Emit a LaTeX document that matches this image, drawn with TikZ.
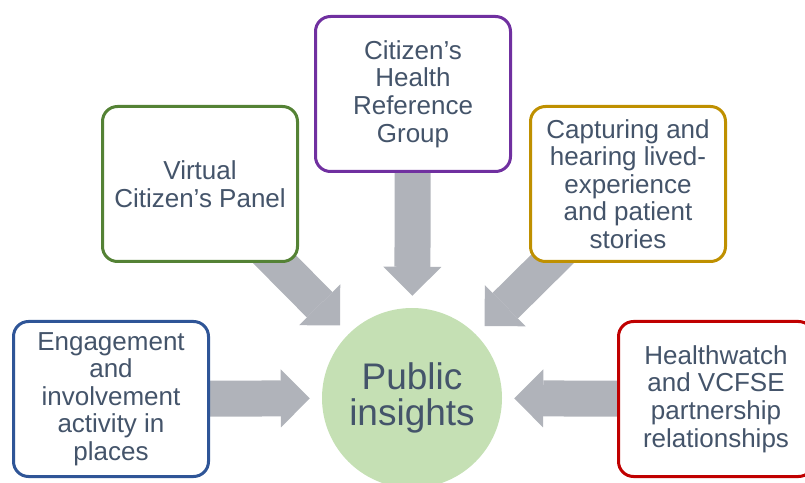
\documentclass[tikz,border=0pt]{standalone}
\usepackage{fontspec}
\setmainfont{Liberation Sans}
\usetikzlibrary{positioning, arrows.meta}
\usetikzlibrary{backgrounds}

\definecolor{slate}{HTML}{44546A}
\definecolor{leafgreen}{HTML}{C5E0B4}
\definecolor{arrowgray}{RGB}{176,179,186}
\definecolor{blueline}{HTML}{2F5597}
\definecolor{greenline}{HTML}{548235}
\definecolor{purpleline}{HTML}{7030A0}
\definecolor{goldline}{HTML}{BF9000}
\definecolor{redline}{HTML}{C00000}

\tikzset{
	sourcebox/.style={rectangle,rounded corners=15pt,line width=3pt,fill=white,text=slate,minimum width=195pt,minimum height=155pt,align=center,font=\fontsize{26}{27.6}\selectfont},
	insight/.style={circle,fill=leafgreen,text=slate,minimum size=180pt,align=center,font=\fontsize{37}{36}\selectfont},
	fatarrow/.style={color=arrowgray,line width=36pt,shorten <=-20pt,shorten >=12pt,-{Triangle[length=29pt,width=58pt,line width=0pt]}}
}

\begin{document}
\begin{tikzpicture}[x=1pt,y=1pt]
	\useasboundingbox (0,0) rectangle (805,482);

	\node (public) at (412,84) [insight] {Public\\insights};

	\node (engage) at (111,83) [sourcebox,draw=blueline] {Engagement\\and\\involvement\\activity in\\places};
	\node (virtual) at (200,298) [sourcebox,draw=greenline] {Virtual\\Citizen’s Panel};
	\node (healthref) at (413,388) [sourcebox,draw=purpleline] {Citizen’s\\Health\\Reference\\Group};
	\node (lived) at (628,298) [sourcebox,draw=goldline] {Capturing and\\hearing lived-\\experience\\and patient\\stories};
	\node (partner) at (716,83) [sourcebox,draw=redline] {Healthwatch\\and VCFSE\\partnership\\relationships};

	% grey block arrows sit behind the boxes
	\begin{scope}[on background layer]
	\path[fatarrow] (engage) edge (public);
	\path[fatarrow] (virtual) edge (public);
	\path[fatarrow] (healthref) edge (public);
	\path[fatarrow] (lived) edge (public);
	\path[fatarrow] (partner) edge (public);
	\end{scope}
\end{tikzpicture}
\end{document}
